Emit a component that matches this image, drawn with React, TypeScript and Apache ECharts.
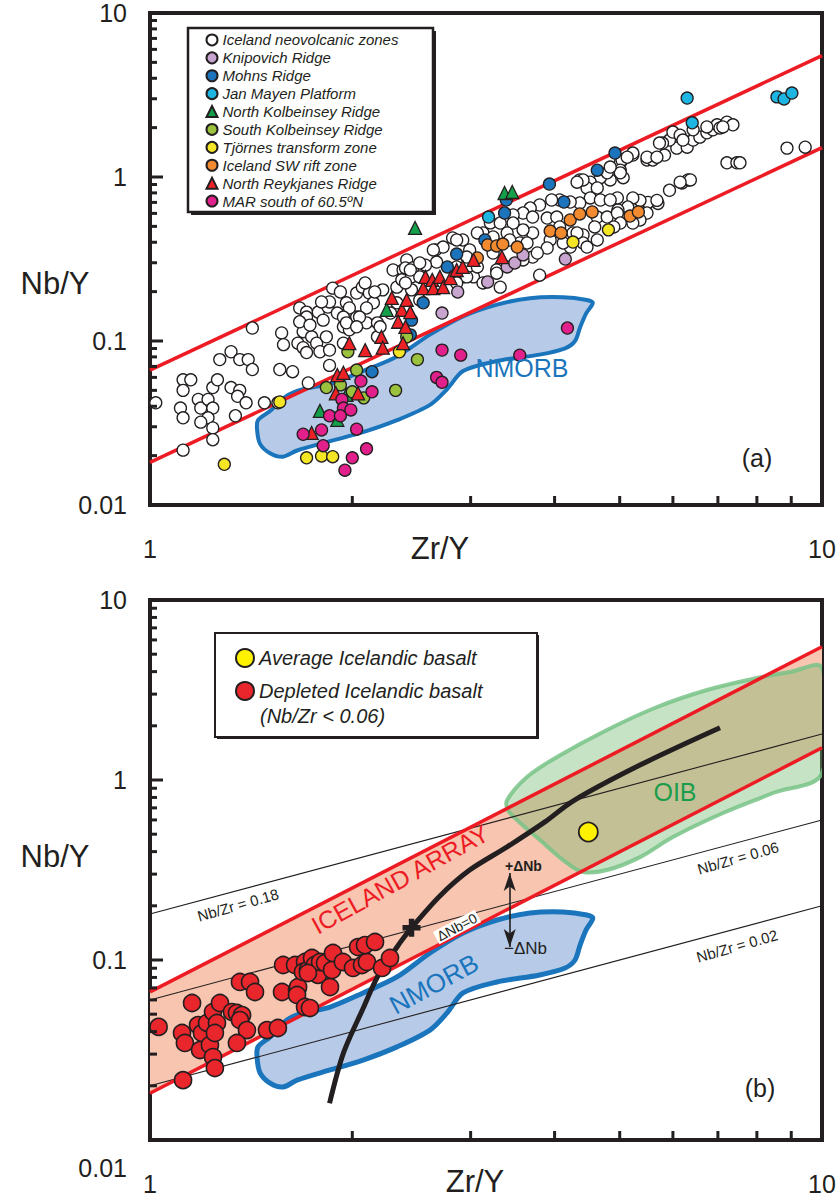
import React, { useEffect, useRef } from "react";
import * as echarts from "echarts";

const FONT = "'Liberation Sans', Arial, Helvetica, sans-serif";
const INK = "#231f20";
const RED = "#ed1c24";
const BLUE = "#1b75bc";

// ---------- axis ticks ----------
const yMajorTicks = [0.01, 0.1, 1, 10];
const yMinorTicks = [0.02, 0.03, 0.04, 0.05, 0.06, 0.07, 0.08, 0.09, 0.2, 0.3, 0.4, 0.5, 0.6, 0.7, 0.8, 0.9, 2, 3, 4, 5, 6, 7, 8, 9];
const xMinorTicks = [2, 3, 4, 5, 6, 7, 8, 9];

// ---------- reference lines ----------
const icelandArrayUpper = [[1, 0.0665], [10, 5.5]];
const icelandArrayLower = [[1, 0.0182], [10, 1.51]];
const nbZr018 = [[1, 0.18], [10, 1.8]];
const nbZr006 = [[1, 0.06], [10, 0.6]];
const nbZr002 = [[1, 0.02], [10, 0.2]];

// ---------- fields ----------
const nmorbField = [
  [1.443, 0.0289], [1.448, 0.0329], [1.509, 0.0374], [1.599, 0.0464], [1.689, 0.0508], [1.853, 0.0548],
  [2.075, 0.0656], [2.331, 0.0805], [2.61, 0.1094], [2.923, 0.1413], [3.284, 0.1668], [3.677, 0.1824],
  [4.118, 0.1848], [4.467, 0.1778], [4.56, 0.171], [4.455, 0.1468], [4.365, 0.121], [4.29, 0.1],
  [4.147, 0.0903], [3.8, 0.0826], [3.284, 0.0755], [2.923, 0.0656], [2.767, 0.0508], [2.61, 0.0408],
  [2.331, 0.0329], [2.075, 0.0278], [1.853, 0.0245], [1.655, 0.0215], [1.577, 0.0197], [1.509, 0.0207],
  [1.458, 0.0236],
];
const oibField = [
  [3.4, 0.774], [3.64, 1.039], [4.034, 1.342], [4.786, 1.896], [5.683, 2.544], [6.745, 3.162],
  [8.004, 3.687], [8.963, 3.981], [10, 4.19], [10, 1.094], [8.454, 0.847], [7.123, 0.656],
  [6.0, 0.4825], [5.36, 0.373], [4.786, 0.316], [4.41, 0.308], [4.173, 0.346], [3.805, 0.464],
  [3.516, 0.6], [3.41, 0.681],
];

// ---------- panel (a) data ----------
const icelandNeovolcanic = [
  [1.02, 0.042], [1.12, 0.058], [1.15, 0.058], [1.12, 0.05], [1.11, 0.039], [1.12, 0.034], [1.12, 0.0216], [1.18, 0.044], [1.19, 0.039], [1.22, 0.044],
  [1.24, 0.052], [1.26, 0.058], [1.24, 0.039], [1.22, 0.034], [1.19, 0.032], [1.24, 0.0295], [1.24, 0.025], [1.32, 0.052], [1.36, 0.05], [1.35, 0.046],
  [1.39, 0.042], [1.34, 0.035], [1.27, 0.077], [1.32, 0.086], [1.36, 0.077], [1.4, 0.077], [1.42, 0.067], [1.42, 0.12], [1.48, 0.042], [1.55, 0.042],
  [1.57, 0.112], [1.58, 0.095], [1.56, 0.067], [1.63, 0.065], [1.66, 0.097], [1.69, 0.091], [1.71, 0.085], [1.67, 0.159], [1.71, 0.15], [1.69, 0.114],
  [1.74, 0.106], [1.77, 0.097], [1.79, 0.086], [1.83, 0.106], [1.85, 0.088], [1.85, 0.071], [1.72, 0.0555], [1.78, 0.15], [1.84, 0.161], [1.87, 0.21],
  [1.9, 0.148], [1.94, 0.122], [1.98, 0.117], [2.03, 0.14], [1.96, 0.171], [2.03, 0.196], [2.07, 0.213], [2.12, 0.196], [2.15, 0.171], [2.1, 0.129],
  [2.18, 0.129], [2.22, 0.205], [2.33, 0.213], [2.3, 0.271], [2.38, 0.271], [2.41, 0.312], [1.94, 0.097], [2.18, 0.106],
  [1.92, 0.199], [2.09, 0.226], [2.16, 0.199], [2.4, 0.279], [2.46, 0.279], [2.37, 0.236], [2.45, 0.246], [2.52, 0.246], [2.45, 0.205], [2.52, 0.178],
  [2.66, 0.359], [2.73, 0.374], [2.82, 0.425], [2.92, 0.413], [2.99, 0.359], [2.96, 0.325], [2.86, 0.283], [2.92, 0.246], [3.03, 0.246], [3.13, 0.456],
  [3.24, 0.413], [3.28, 0.271], [3.21, 0.525], [3.07, 0.456], [2.67, 0.303], [2.57, 0.29], [2.33, 0.171], [2.28, 0.148], [2.1, 0.159], [2.05, 0.14],
  [1.98, 0.159], [1.94, 0.14], [1.85, 0.173], [1.8, 0.173], [1.71, 0.14], [1.67, 0.131], [1.73, 0.125], [1.81, 0.134], [1.96, 0.129], [2.03, 0.122],
  [2.2, 0.122],
  [5.23, 1.36], [5.49, 1.27], [5.6, 1.27], [5.83, 1.36], [6.08, 1.5], [6.3, 1.52], [6.43, 1.68], [6.58, 1.75], [6.74, 1.86], [6.88, 1.94],
  [6.98, 2.08], [7.22, 2.16], [7.37, 2.08], [5.93, 1.68], [5.79, 1.61], [6.0, 1.88], [6.15, 1.8], [6.43, 1.94], [6.74, 2.02], [7.05, 1.99],
  [7.22, 1.22], [7.47, 1.22], [6.19, 0.92], [6.32, 0.96], [5.93, 0.83], [5.7, 0.69], [5.51, 0.7], [5.36, 0.72], [5.23, 0.745], [5.14, 0.656],
  [4.97, 0.63], [4.96, 0.745], [5.06, 0.99], [4.84, 0.96], [4.68, 0.99], [4.52, 0.93], [4.36, 0.96], [4.47, 0.857], [4.63, 0.857], [5.01, 1.22],
  [5.04, 1.27], [5.01, 1.1], [4.52, 0.745], [4.68, 0.724], [4.84, 0.724], [4.36, 0.694], [4.22, 0.704], [4.07, 0.724], [3.96, 0.724], [3.8, 0.675],
  [3.68, 0.647], [3.59, 0.603], [3.47, 0.587], [3.71, 0.57], [3.9, 0.562], [4.03, 0.57], [4.07, 0.496], [4.63, 0.57], [4.79, 0.57], [4.96, 0.603],
  [5.49, 0.603], [5.36, 0.547], [5.23, 0.524], [5.01, 0.524], [4.9, 0.496], [4.59, 0.496], [4.41, 0.443], [4.26, 0.456], [4.22, 0.374], [4.12, 0.396],
  [3.94, 0.413], [3.71, 0.456], [3.59, 0.476], [3.47, 0.524], [3.32, 0.524], [4.41, 0.396], [3.71, 0.325], [3.59, 0.312], [3.9, 0.369], [3.24, 0.431],
  [3.4, 0.456], [3.55, 0.396], [8.87, 1.5], [9.44, 1.52], [7.55, 1.22], [6.37, 0.96], [6.15, 0.93], [5.68, 0.72], [5.23, 1.4], [5.49, 1.32],
  [5.68, 1.32], [3.8, 0.252], [4.47, 0.374], [4.63, 0.413], [4.32, 0.456], [3.77, 0.344], [3.64, 0.396], [3.43, 0.413], [3.24, 0.344], [3.07, 0.283],
  [2.96, 0.246], [2.86, 0.226], [3.28, 0.259], [3.32, 0.213], [3.13, 0.226], [2.86, 0.413], [2.64, 0.359], [2.52, 0.299], [2.44, 0.271], [2.4, 0.226],
  [4.79, 1.06], [5.01, 1.06], [4.84, 1.15], [5.13, 1.32], [5.73, 1.61], [6.21, 1.68], [7.12, 2.02], [4.41, 0.96], [4.32, 0.93],
];
const knipovichRidge = [[2.72, 0.148], [2.87, 0.199], [3.18, 0.229], [3.4, 0.283], [3.49, 0.299], [3.59, 0.335], [4.15, 0.316]];
const mohnsRidge = [
  [4.92, 1.4], [4.63, 1.1], [3.93, 0.906], [4.13, 0.704], [3.39, 0.724], [3.37, 0.603], [3.15, 0.413],
  [2.86, 0.339], [2.77, 0.283], [2.55, 0.171], [2.45, 0.134], [2.44, 0.109], [2.14, 0.065],
];
const janMayenPlatform = [[6.3, 3.03], [6.41, 2.14], [8.57, 3.08], [8.78, 2.99], [9.02, 3.25], [3.19, 0.57]];
const northKolbeinsey = [[2.48, 0.489], [3.37, 0.799], [3.46, 0.81], [2.25, 0.155], [1.79, 0.0375], [1.9, 0.033], [1.96, 0.047]];
const southKolbeinsey = [[1.97, 0.086], [2.03, 0.0665], [2.32, 0.05], [2.5, 0.077], [1.83, 0.052], [1.92, 0.054], [2.0, 0.049], [2.08, 0.045], [2.41, 0.106]];
const tjornesZone = [[1.56, 0.0425], [1.29, 0.0177], [1.71, 0.0194], [1.8, 0.0199], [1.87, 0.0197], [2.35, 0.086], [4.26, 0.401], [4.81, 0.476]];
const swRiftZone = [
  [3.07, 0.321], [3.18, 0.385], [3.28, 0.38], [3.35, 0.39], [3.52, 0.374], [3.94, 0.468],
  [4.09, 0.456], [4.22, 0.547], [4.36, 0.595], [4.55, 0.612], [5.18, 0.578], [5.33, 0.612],
];
const northReykjanes = [
  [1.74, 0.0275], [1.89, 0.048], [1.9, 0.062], [1.94, 0.064], [2.04, 0.048], [1.98, 0.097], [2.09, 0.088],
  [2.21, 0.106], [2.22, 0.091], [2.38, 0.097], [2.29, 0.183], [2.37, 0.155], [2.34, 0.131], [2.41, 0.178],
  [2.44, 0.15], [2.4, 0.122], [2.55, 0.21], [2.57, 0.246], [2.63, 0.236], [2.64, 0.21], [2.7, 0.246],
  [2.73, 0.213], [2.8, 0.242], [2.86, 0.271], [2.92, 0.283], [3.03, 0.312], [3.34, 0.325],
];
const marSouth = [
  [4.18, 0.12], [3.55, 0.082], [2.9, 0.082], [2.72, 0.088], [2.67, 0.06], [2.72, 0.056], [2.06, 0.057],
  [2.14, 0.049], [1.93, 0.044], [1.94, 0.039], [1.99, 0.038], [1.85, 0.035], [1.92, 0.035], [1.8, 0.0287],
  [1.69, 0.027], [2.03, 0.029], [1.81, 0.023], [2.0, 0.0194], [2.1, 0.022], [1.95, 0.0163],
];

// ---------- panel (b) data ----------
const averageIcelandic = [[4.49, 0.514]];
const depletedIcelandic = [
  [1.03, 0.0425], [1.155, 0.0577], [1.116, 0.0393], [1.127, 0.0346], [1.179, 0.0435], [1.195, 0.0393], [1.216, 0.0447],
  [1.187, 0.0316], [1.228, 0.0337], [1.241, 0.0514], [1.258, 0.0447], [1.249, 0.0393], [1.241, 0.0289], [1.249, 0.0251],
  [1.271, 0.0577], [1.12, 0.0215], [1.324, 0.0514], [1.347, 0.0508], [1.371, 0.0494], [1.361, 0.0464], [1.394, 0.0408],
  [1.347, 0.0346], [1.493, 0.0408], [1.55, 0.0419], [1.361, 0.0755], [1.409, 0.0755], [1.433, 0.0664], [1.572, 0.0664],
  [1.578, 0.0938], [1.644, 0.0938], [1.655, 0.0681], [1.661, 0.0708], [1.655, 0.0639], [1.701, 0.0975], [1.689, 0.0858],
  [1.718, 0.088], [1.742, 0.1026], [1.76, 0.0938], [1.778, 0.0826], [1.791, 0.0975], [1.822, 0.0962], [1.853, 0.0708],
  [1.866, 0.088], [1.872, 0.1094], [1.937, 0.0975], [2.005, 0.0903], [2.04, 0.118], [2.068, 0.0938], [2.103, 0.0975],
  [2.089, 0.121], [2.162, 0.126], [2.215, 0.0903], [2.276, 0.1026], [1.701, 0.0548], [1.73, 0.0541], [1.718, 0.0847],
];
const meltingCurve = [
  [1.85, 0.016], [1.94, 0.0304], [2.08, 0.0548], [2.18, 0.0805], [2.36, 0.126], [2.45, 0.151], [2.7, 0.227],
  [2.99, 0.316], [3.4, 0.425], [3.87, 0.585], [4.26, 0.764], [5.36, 1.21], [7.05, 1.95],
];
const crossPoint = [[2.45, 0.151]];
const deltaNbArrowX = 3.43;
const deltaNbArrowY = [0.304, 0.118];

const fmt = (v: number) => String(Number(Number(v).toPrecision(3)));

function polygonSeries(points: number[][], gi: number, style: any, z: number, smooth: number) {
  return {
    type: "custom",
    xAxisIndex: gi,
    yAxisIndex: gi,
    z,
    silent: true,
    clip: true,
    data: [[2, 0.1]],
    renderItem: (_p: any, api: any) => ({
      type: "polygon",
      shape: { points: points.map((pt) => api.coord(pt)), smooth },
      style,
    }),
  };
}

// axis ticks drawn through the axes' own scales (inside ticks, as in the figure)
function tickSeries(gi: number) {
  return {
    type: "custom",
    xAxisIndex: gi,
    yAxisIndex: gi,
    z: 20,
    silent: true,
    clip: false,
    data: [[2, 0.1]],
    renderItem: (_p: any, api: any) => {
      const children: any[] = [];
      const yTick = (v: number, len: number) => {
        const c = api.coord([1, v]);
        children.push({ type: "rect", shape: { x: c[0], y: c[1] - 1.5, width: len, height: 3 }, style: { fill: INK } });
      };
      yMajorTicks.forEach((v) => yTick(v, 13));
      yMinorTicks.forEach((v) => yTick(v, 7));
      xMinorTicks.forEach((v) => {
        const c = api.coord([v, 0.01]);
        children.push({ type: "rect", shape: { x: c[0] - 1.5, y: c[1] - 9, width: 3, height: 9 }, style: { fill: INK } });
      });
      return { type: "group", children };
    },
  };
}

function lineSeries(data: number[][], gi: number, color: string, width: number, z: number, extra: any = {}) {
  return {
    type: "line",
    xAxisIndex: gi,
    yAxisIndex: gi,
    data,
    showSymbol: false,
    symbol: "none",
    silent: true,
    z,
    lineStyle: { color, width },
    ...extra,
  };
}

function scatter(name: string, data: number[][], gi: number, color: string, symbol: string, size: number, z = 5, bw = 1.3) {
  return {
    type: "scatter",
    name,
    xAxisIndex: gi,
    yAxisIndex: gi,
    data,
    symbol,
    symbolSize: size,
    z,
    itemStyle: { color, borderColor: INK, borderWidth: bw, opacity: 1 },
  };
}

function xAxisCfg(gi: number) {
  return {
    type: "log",
    logBase: 10,
    min: 1,
    max: 10,
    gridIndex: gi,
    axisLine: { show: false },
    axisTick: { show: false },
    minorTick: { show: false },
    splitLine: { show: false },
    axisLabel: { margin: 31, fontSize: 25, fontFamily: FONT, color: INK, showMinLabel: true, showMaxLabel: true, formatter: (v: number) => fmt(v) },
  };
}

function yAxisCfg(gi: number, lowShift: boolean) {
  return {
    type: "log",
    logBase: 10,
    min: 0.01,
    max: 10,
    gridIndex: gi,
    axisLine: { show: false },
    axisTick: { show: false },
    minorTick: { show: false },
    splitLine: { show: false },
    axisLabel: {
      margin: 23,
      fontSize: 25,
      fontFamily: FONT,
      color: INK,
      showMinLabel: true,
      showMaxLabel: true,
      formatter: (v: number) => (lowShift && v < 0.015 ? `{low|${fmt(v)}}` : fmt(v)),
      rich: { low: { padding: [56, 0, 0, 0], fontSize: 25, fontFamily: FONT, color: INK } },
    },
  };
}

function txt(text: string, x: number, y: number, size: number, color: string, extra: any = {}, rotDeg = 0) {
  return {
    type: "text",
    x,
    y,
    rotation: (rotDeg * Math.PI) / 180,
    z: 40,
    silent: true,
    style: {
      text,
      x: 0,
      y: 0,
      fill: color,
      fontSize: size,
      fontFamily: FONT,
      align: "center",
      verticalAlign: "middle",
      ...extra,
    },
  };
}

function buildOption() {
  const legendA = [
    "Iceland neovolcanic zones",
    "Knipovich Ridge",
    "Mohns Ridge",
    "Jan Mayen Platform",
    "North Kolbeinsey Ridge",
    "South Kolbeinsey Ridge",
    "Tjörnes transform zone",
    "Iceland SW rift zone",
    "North Reykjanes Ridge",
    "MAR south of 60.5ºN",
  ];
  const bandPoly = [...icelandArrayLower, ...icelandArrayUpper.slice().reverse()];

  return {
    animation: false,
    backgroundColor: "#ffffff",
    grid: [
      { left: 150, top: 13, width: 672, height: 492, show: true, borderColor: INK, borderWidth: 4, backgroundColor: "transparent", outerBoundsMode: "none" },
      { left: 150, top: 600, width: 672, height: 540, show: true, borderColor: INK, borderWidth: 4, backgroundColor: "transparent", outerBoundsMode: "none" },
    ],
    xAxis: [xAxisCfg(0), xAxisCfg(1)],
    yAxis: [yAxisCfg(0, false), yAxisCfg(1, true)],
    legend: [
      {
        orient: "vertical",
        left: 205.5,
        top: 31,
        padding: 0,
        itemGap: 0,
        itemWidth: 11,
        itemHeight: 11,
        z: 30,
        selectedMode: false,
        data: legendA,
        textStyle: { fontFamily: FONT, fontStyle: "italic", fontSize: 15, color: INK, lineHeight: 17.9 },
      },
      {
        orient: "vertical",
        left: 235,
        top: 646,
        padding: 0,
        itemGap: 9,
        itemWidth: 18,
        itemHeight: 18,
        z: 30,
        selectedMode: false,
        data: ["Average Icelandic basalt", "Depleted Icelandic basalt"],
        textStyle: { fontFamily: FONT, fontStyle: "italic", fontSize: 20, color: INK, lineHeight: 24 },
      },
    ],
    graphic: [
      { type: "rect", shape: { x: 191, y: 31, width: 245, height: 184 }, style: { fill: INK }, z: 25, silent: true },
      { type: "rect", shape: { x: 188, y: 28, width: 245, height: 184 }, style: { fill: "#fff", stroke: INK, lineWidth: 2.5 }, z: 26, silent: true },
      { type: "rect", shape: { x: 217, y: 635, width: 322, height: 104 }, style: { fill: INK }, z: 25, silent: true },
      { type: "rect", shape: { x: 215, y: 633, width: 322, height: 104 }, style: { fill: "#fff", stroke: INK, lineWidth: 2 }, z: 26, silent: true },
      txt("(Nb/Zr < 0.06)", 260, 716, 20, INK, { align: "left", fontStyle: "italic" }),
      // axis names
      txt("Zr/Y", 440, 548, 31, INK),
      txt("Nb/Y", 55, 283, 31, INK),
      txt("Zr/Y", 475, 1181, 31, INK),
      txt("Nb/Y", 55, 856, 31, INK),
      // panel a annotations
      txt("NMORB", 522, 368, 25, BLUE),
      txt("(a)", 757, 458, 25, INK),
      // panel b annotations
      txt("ICELAND ARRAY", 400, 879, 25, RED, {}, 29),
      txt("NMORB", 434, 984, 26, BLUE, {}, 28.5),
      txt("OIB", 675, 792, 25, "#1a9d4b"),
      txt("Nb/Zr = 0.18", 238, 905, 15, INK, {}, 16),
      txt("Nb/Zr = 0.06", 738, 858, 15, INK, {}, 16),
      txt("Nb/Zr = 0.02", 737, 946, 15, INK, {}, 16),
      txt("ΔNb=0", 457, 927, 14, INK, { backgroundColor: "#ffffff", padding: [0, 2] }, 28),
      txt("+ΔNb", 505, 866, 14, INK, { align: "left", fontWeight: "bold" }),
      txt("−ΔNb", 504, 948, 17, INK, { align: "left" }),
      txt("(b)", 760, 1088, 25, INK),
    ],
    series: [
      // ----- panel a -----
      polygonSeries(nmorbField, 0, { fill: "#b7cbe8", stroke: BLUE, lineWidth: 4, lineJoin: "round" }, 1, 0.3),
      lineSeries(icelandArrayUpper, 0, RED, 3.5, 2),
      lineSeries(icelandArrayLower, 0, RED, 3.5, 2),
      scatter(legendA[0], icelandNeovolcanic, 0, "#ffffff", "circle", 12, 4),
      scatter(legendA[1], knipovichRidge, 0, "#c8a5cf", "circle", 12),
      scatter(legendA[2], mohnsRidge, 0, "#1c75bc", "circle", 12),
      scatter(legendA[3], janMayenPlatform, 0, "#1db5e2", "circle", 12),
      scatter(legendA[4], northKolbeinsey, 0, "#14a04a", "triangle", 13),
      scatter(legendA[5], southKolbeinsey, 0, "#9bc23c", "circle", 12),
      scatter(legendA[6], tjornesZone, 0, "#f5e625", "circle", 12),
      scatter(legendA[7], swRiftZone, 0, "#f28a30", "circle", 12),
      scatter(legendA[8], northReykjanes, 0, "#ec2227", "triangle", 13),
      scatter(legendA[9], marSouth, 0, "#e2208b", "circle", 12),
      tickSeries(0),
      // ----- panel b -----
      polygonSeries(bandPoly, 1, { fill: "#f8c5b0" }, 1, 0),
      polygonSeries(oibField, 1, { fill: "rgba(115,185,110,0.40)", stroke: "rgba(120,195,135,0.85)", lineWidth: 4, lineJoin: "round" }, 2, 0.35),
      polygonSeries(nmorbField, 1, { fill: "#b7cbe8", stroke: BLUE, lineWidth: 5, lineJoin: "round" }, 2, 0.3),
      lineSeries(nbZr018, 1, INK, 1.1, 3),
      lineSeries(nbZr006, 1, INK, 1.1, 3),
      lineSeries(nbZr002, 1, INK, 1.1, 3),
      lineSeries(icelandArrayUpper, 1, RED, 3.5, 4),
      lineSeries(icelandArrayLower, 1, RED, 3.5, 4, {
        markLine: {
          silent: true,
          symbol: ["arrow", "arrow"],
          symbolSize: [9, 18],
          label: { show: false },
          lineStyle: { color: INK, width: 1.6, type: "solid" },
          data: [[{ coord: [deltaNbArrowX, deltaNbArrowY[0]] }, { coord: [deltaNbArrowX, deltaNbArrowY[1]] }]],
        },
      }),
      lineSeries(meltingCurve, 1, INK, 5, 5, { smooth: 0.3 }),
      {
        type: "scatter",
        xAxisIndex: 1,
        yAxisIndex: 1,
        data: crossPoint,
        symbol: "path://M3.5,0H6.5V3.5H10V6.5H6.5V10H3.5V6.5H0V3.5H3.5Z",
        symbolSize: 18,
        itemStyle: { color: INK, opacity: 1 },
        z: 6,
        silent: true,
      },
      scatter("Depleted Icelandic basalt", depletedIcelandic, 1, "#e8262b", "circle", 17, 7, 1.6),
      scatter("Average Icelandic basalt", averageIcelandic, 1, "#fff200", "circle", 19, 7, 1.8),
      tickSeries(1),
    ],
  };
}

export default function App() {
  const ref = useRef<HTMLDivElement>(null);
  useEffect(() => {
    if (!ref.current) return;
    const chart = echarts.init(ref.current, null, { renderer: "svg" });
    chart.setOption(buildOption() as any);
    return () => chart.dispose();
  }, []);
  return (
    <div
      ref={ref}
      style={{ position: "absolute", left: 0, top: 0, width: 840, height: 1198, background: "#ffffff" }}
    />
  );
}
